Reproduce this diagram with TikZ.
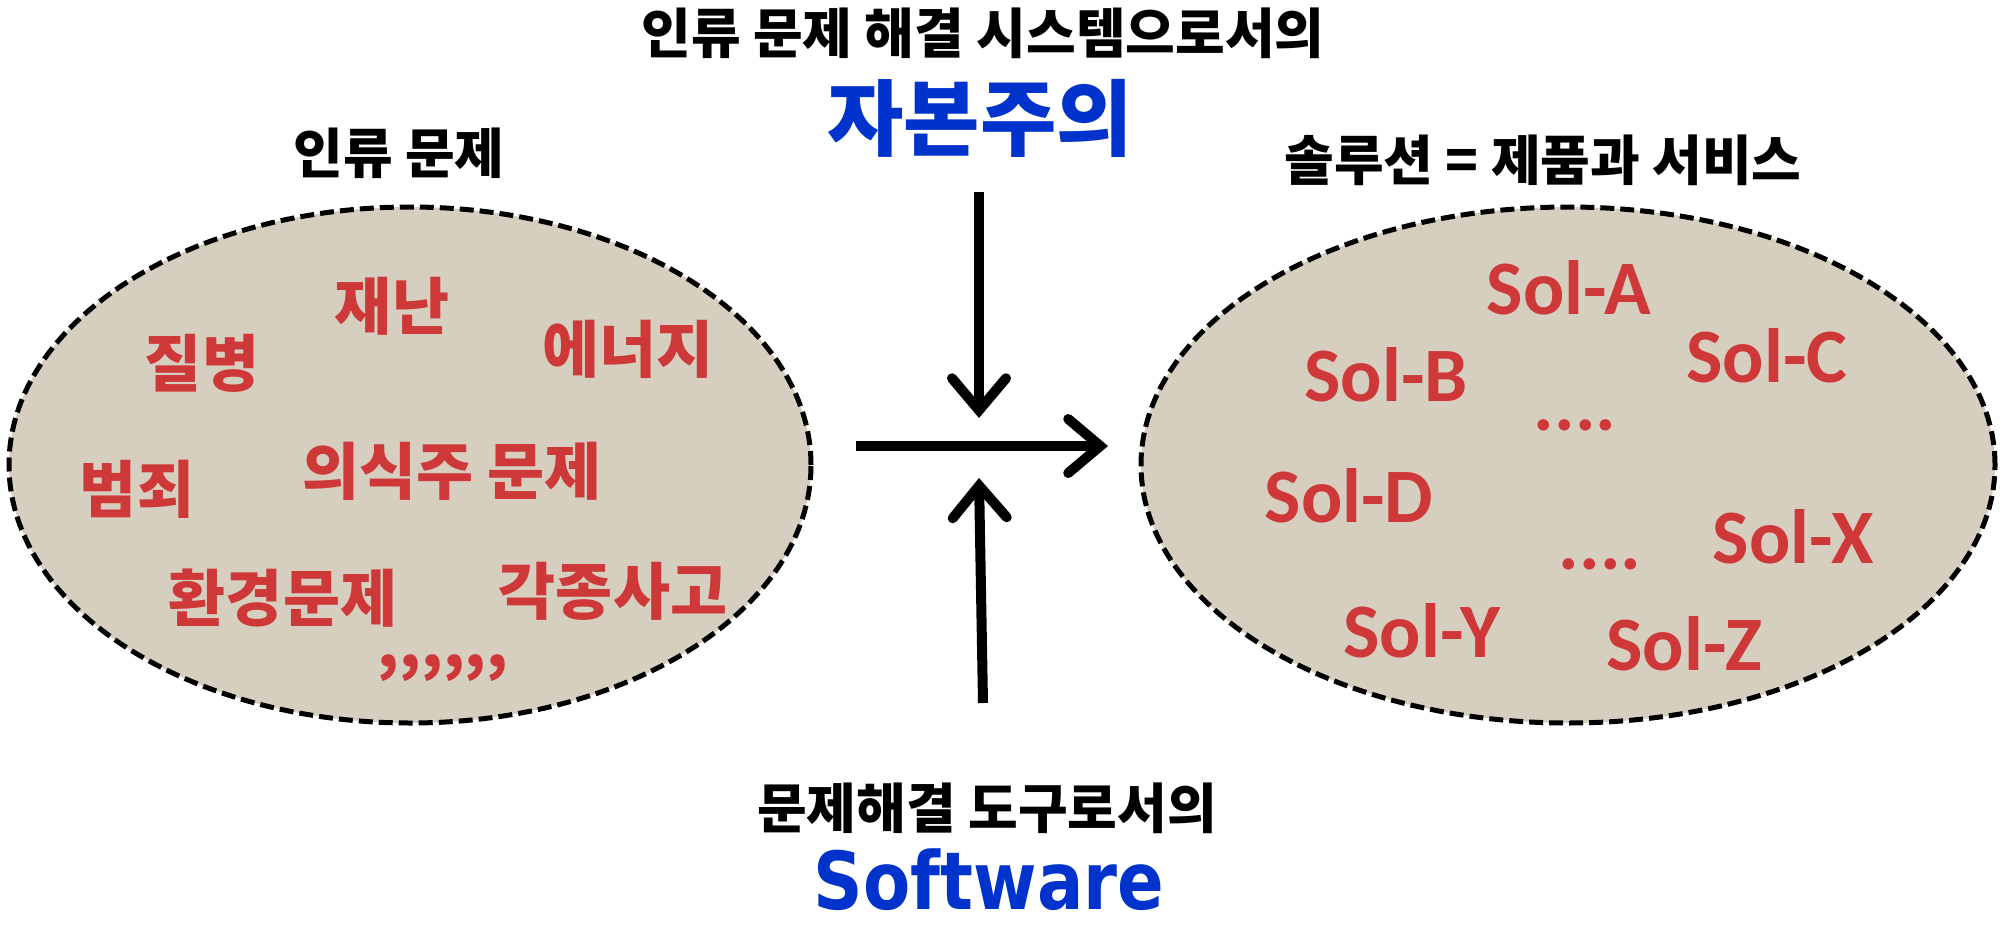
\documentclass[tikz,border=0pt]{standalone}
\usepackage{fontspec}
\usetikzlibrary{arrows.meta,shapes.geometric}
\newfontfamily\krfont{Noto Sans CJK KR}
\newfontfamily\solfont{Carlito}
\newfontfamily\swfont{DejaVu Sans}[FakeStretch=0.86]
\definecolor{blobfill}{RGB}{214,207,192}
\definecolor{lblred}{RGB}{206,56,56}
\definecolor{headblue}{RGB}{0,51,204}
\tikzset{
  blob/.style={ellipse, draw=black, fill=blobfill, line width=5pt,
    dash pattern=on 14pt off 6pt, inner sep=0pt},
  heading/.style={inner sep=0pt, font=\krfont\bfseries\fontsize{54}{60}\selectfont, text=black},
  bigblue/.style={inner sep=0pt, text=headblue},
  redlbl/.style={inner sep=0pt, text=lblred, font=\krfont\bfseries\fontsize{62}{70}\selectfont},
  sollbl/.style={inner sep=0pt, text=lblred, font=\solfont\bfseries\fontsize{77}{80}\selectfont},
  flowarrow/.style={line width=10pt, line cap=butt,
    -{Straight Barb[length=32pt,width=54pt,line cap=round,line join=miter]}}
}
\begin{document}
\begin{tikzpicture}[x=1pt,y=-1pt]
\useasboundingbox (0,0) rectangle (2003,929);

% ellipses
\node[blob, minimum width=802pt, minimum height=516pt] (probs) at (410,465) {};
\node[blob, minimum width=854pt, minimum height=516pt] (sols) at (1568,465) {};

% headings
\node[heading] (tophead) at (983,33) {인류 문제 해결 시스템으로서의};
\node[bigblue, font=\krfont\bfseries\fontsize{83}{90}\selectfont] (jabon) at (980,118) {자본주의};
\node[heading] (probhead) at (399,153) {인류 문제};
\node[heading] (solhead) at (1543,160) {솔루션 = 제품과 서비스};
\node[heading] (tool) at (987,808) {문제해결 도구로서의};
\node[bigblue, font=\swfont\bfseries\fontsize{80}{86}\selectfont] (sw) at (989,880) {Software};

% problems
\node[redlbl] (p1) at (202,363) {질병};
\node[redlbl] (p2) at (392,306) {재난};
\node[redlbl] (p3) at (628,349) {에너지};
\node[redlbl] (p4) at (137,489) {범죄};
\node[redlbl] (p5) at (452,471) {의식주 문제};
\node[redlbl] (p6) at (283,598) {환경문제};
\node[redlbl] (p7) at (613,591) {각종사고};
\node[redlbl] (p8) at (443,668) {,,,,,,};

% solutions
\node[sollbl] (sA) at (1569,288) {Sol-A};
\node[sollbl] (sB) at (1386,375) {Sol-B};
\node[sollbl] (sC) at (1767,356) {Sol-C};
\node[sollbl] (d1) at (1575,425) {....};
\node[sollbl] (sD) at (1349,496) {Sol-D};
\node[sollbl] (d2) at (1600,564) {....};
\node[sollbl] (sX) at (1793,537) {Sol-X};
\node[sollbl] (sY) at (1422,631) {Sol-Y};
\node[sollbl] (sZ) at (1684,644) {Sol-Z};

% arrows
\coordinate (dtop) at (979,192);
\coordinate (dtip) at (979,418);
\coordinate (utop) at (983,703);
\coordinate (utip) at (979,478);
\coordinate (hin) at (856,446);
\coordinate (hout) at (1108,446);
\draw[flowarrow] (dtop) -- (dtip);
\draw[flowarrow] (utop) -- (utip);
\draw[flowarrow] (hin) -- (hout);
\end{tikzpicture}
\end{document}
